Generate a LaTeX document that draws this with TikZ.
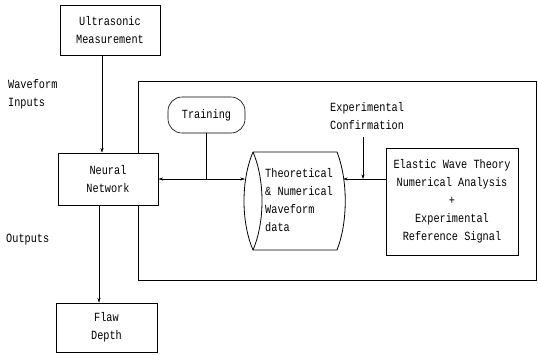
\documentclass[tikz,border=0pt]{standalone}
\usepackage{fontspec}
\setmainfont[FakeStretch=0.82]{Liberation Mono}
\usetikzlibrary{arrows.meta}

\begin{document}
\begin{tikzpicture}[x=1pt,y=-1pt,thin,>={Stealth[length=4.5pt,width=3pt]},font=\fontsize{12.5}{18}\selectfont,main box/.style={rectangle,draw,line width=1pt,fill=white,align=center,inner sep=0pt}]
\tikzstyle{label text} = [align=left,anchor=west,inner sep=0pt]
\useasboundingbox (0,0) rectangle (538,354);

\coordinate (frametl) at (138,81);
\coordinate (framebr) at (536,280);
\coordinate (confbot) at (363,137);

% Draw outer frame
\draw[line width=1pt] (frametl) rectangle (framebr);

% Boxes
\node[main box,minimum width=100,minimum height=50] (ultra) at (110,30) {Ultrasonic\\Measurement};
\node[main box,minimum width=100,minimum height=52] (nn) at (108,179) {Neural\\Network};
\node[main box,minimum width=101,minimum height=49] (flaw) at (106.5,327.5) {Flaw\\Depth};
\node[main box,minimum width=132,minimum height=107] (elastic) at (452,201.5) {Elastic Wave Theory\\Numerical Analysis\\+\\Experimental\\Reference Signal};
\node[main box,line width=0.6pt,rounded corners=14,minimum width=77,minimum height=36] (train) at (206.5,115) {Training};

% Draw data cylinder
\draw[line width=0.8pt] (253,152) .. controls (241,180) and (241,222) .. (253,250);
\draw[line width=0.8pt] (253,152) .. controls (265,180) and (265,222) .. (253,250);
\draw[line width=0.8pt] (253,152) -- (337,152) .. controls (348,180) and (348,222) .. (337,250) -- (253,250);
\node[minimum width=100,minimum height=98,inner sep=0pt] (theo) at (295,201) {};
\node[label text] (theotext) at (265,200) {Theoretical\\\& Numerical\\Waveform\\data};

% Labels
\node[label text] (inputs) at (8,94) {Waveform\\Inputs};
\node[label text] (outputs) at (6,240) {Outputs};
\node[label text,anchor=north west] (conf) at (330,102) {Experimental\\Confirmation};

% Draw connectors
\draw[->] ([xshift=-8]ultra.south) -- ([xshift=-8]ultra.south |- nn.north);
\draw[->] ([xshift=-9]nn.south) -- ([xshift=-9]nn.south |- flaw.north);
\draw[<->] (nn.east) -- (theo.west |- nn.east);
\draw (train.south) -- (train.south |- nn.east);
\draw[->] (elastic.west |- nn.east) -- ([xshift=-2]theo.east |- nn.east);
\draw[->] (confbot) -- (confbot |- nn.east);

\end{tikzpicture}
\end{document}
